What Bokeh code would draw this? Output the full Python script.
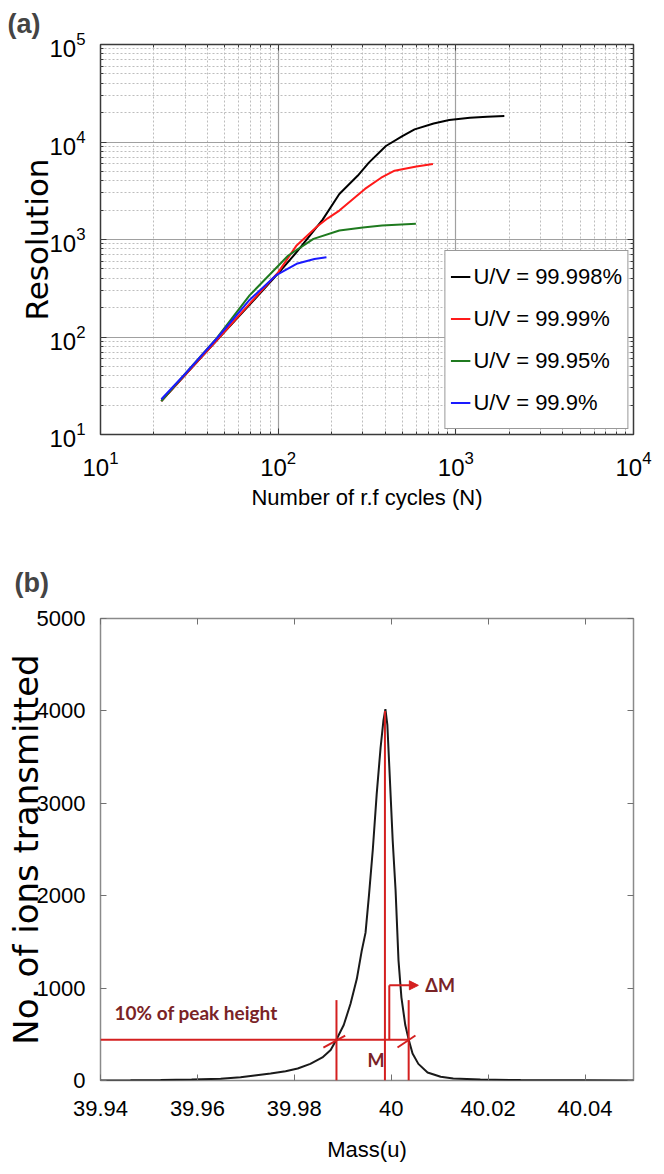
from bokeh.plotting import figure
from bokeh.layouts import column
from bokeh.models import (Range1d, FixedTicker, LogAxis, LinearAxis, CustomJSTickFormatter,
                          LogTickFormatter, Label, Arrow, NormalHead)
from bokeh.embed import file_html
from bokeh.resources import INLINE

# ---------------- panel (a) data ----------------
n_99998 = [22, 30, 45, 70, 100, 127, 178, 221, 280, 324, 404, 500, 586, 750, 918, 1200, 1500, 1875]
r_99998 = [22, 41, 92, 220, 450, 741, 1600, 2930, 4500, 6140, 9100, 11500, 13480, 15500, 16800, 17700, 18200, 18460]
n_9999 = [22, 30, 45, 70, 100, 127, 165, 190, 221, 308, 380, 452, 600, 743]
r_9999 = [22, 41, 92, 225, 460, 870, 1350, 1650, 1980, 3300, 4300, 5080, 5600, 5960]
n_9995 = [22, 30, 45, 69, 90, 114, 158, 221, 300, 384, 596]
r_9995 = [22, 42, 97, 267, 440, 685, 1016, 1236, 1330, 1390, 1447]
n_999 = [22, 30, 45, 69, 97, 127, 160, 187]
r_999 = [23, 42, 96, 240, 428, 563, 630, 659]
series_labels = ["U/V = 99.998%", "U/V = 99.99%", "U/V = 99.95%", "U/V = 99.9%"]
log_major = [10, 100, 1000, 10000, 100000]
log_minor = [m * d for d in [10, 100, 1000, 10000] for m in range(2, 10)]

# ---------------- panel (b) data ----------------
mass = [39.9400, 39.9462, 39.9524, 39.9588, 39.9648, 39.9689, 39.9718, 39.9751, 39.9782,
        39.9807, 39.9833, 39.9858, 39.9875, 39.9887, 39.9902, 39.9916, 39.9929, 39.9939,
        39.9947, 39.9954, 39.9962, 39.9970, 39.9978, 39.9984, 39.9988, 39.9992, 39.9996,
        40.0003, 40.0009, 40.0015, 40.0021, 40.0029, 40.0036, 40.0044, 40.0056, 40.0075,
        40.0102, 40.0128, 40.0184, 40.0267, 40.0391, 40.0500]
ions = [0, 2, 5, 10, 20, 35, 54, 75, 100, 130, 180, 250, 330, 444, 600, 830, 1100, 1400,
        1600, 2000, 2500, 3100, 3600, 3900, 4020, 3850, 3400, 2600, 2056, 1300, 900, 600,
        444, 292, 180, 87, 40, 22, 10, 5, 2, 0]
mass_ticks = [39.94, 39.96, 39.98, 40.0, 40.02, 40.04]
ion_ticks = [0, 1000, 2000, 3000, 4000, 5000]
ten_pct_level = 440
left_cut = 39.9887
right_cut = 40.0036
peak_mass = 39.9987
cut_top = 870
dm_x = 39.9996
dm_level = 1030
dm_arrow_end = 40.0056

SANS = "Liberation Sans"
RED = "#d42020"
DARKRED = "#7a2326"

# ================= panel (a) =================
pa = figure(width=660, height=525, x_axis_type="log", y_axis_type="log",
            x_range=Range1d(10, 1e4), y_range=Range1d(10, 1e5),
            output_backend="svg", toolbar_location=None,
            min_border_left=100, min_border_right=27, min_border_top=42, min_border_bottom=91)
pa.background_fill_color = "white"
pa.outline_line_color = "#3a3a3a"
pa.outline_line_width = 1.5

pa.title.text = "(a)"
pa.title.text_font = SANS
pa.title.text_font_size = "27px"
pa.title.text_font_style = "bold"
pa.title.align = "left"
pa.title.offset = -93
pa.title.standoff = 12

xt = FixedTicker(ticks=log_major[:4], minor_ticks=log_minor)
yt = FixedTicker(ticks=log_major, minor_ticks=log_minor + [m * 100000 for m in range(2, 10)])

pa.xaxis[0].ticker = xt
pa.yaxis[0].ticker = yt
for ax in (pa.xaxis[0], pa.yaxis[0]):
    ax.formatter = LogTickFormatter()
    ax.major_label_text_font = SANS
    ax.major_label_text_font_size = "24px"
    ax.major_label_text_color = "black"
    ax.axis_line_color = None
    ax.major_tick_in = 6
    ax.major_tick_out = 0
    ax.minor_tick_in = 3
    ax.minor_tick_out = 0
    ax.major_tick_line_color = "#3a3a3a"
    ax.minor_tick_line_color = "#3a3a3a"
pa.xaxis.major_label_standoff = 16
pa.yaxis.major_label_standoff = 15
pa.xaxis.axis_label = "Number of r.f cycles (N)"
pa.xaxis.axis_label_text_font = SANS
pa.xaxis.axis_label_text_font_size = "22px"
pa.xaxis.axis_label_text_font_style = "normal"
pa.xaxis.axis_label_text_color = "black"
pa.xaxis.axis_label_standoff = 6
pa.yaxis.axis_label = "Resolution"
pa.yaxis.axis_label_text_font = "DejaVu Sans"
pa.yaxis.axis_label_text_font_size = "31px"
pa.yaxis.axis_label_text_font_style = "normal"
pa.yaxis.axis_label_text_color = "black"
pa.yaxis.axis_label_standoff = -9

for loc, tk in (("above", xt), ("right", yt)):
    extra = LogAxis(ticker=tk, major_label_text_font_size="2px", major_label_text_color=None,
                    major_label_standoff=0,
                    axis_line_color=None, major_tick_in=6, major_tick_out=0,
                    minor_tick_in=3, minor_tick_out=0,
                    major_tick_line_color="#3a3a3a", minor_tick_line_color="#3a3a3a")
    pa.add_layout(extra, loc)

for g in (pa.xgrid[0], pa.ygrid[0]):
    g.grid_line_color = "#a0a0a0"
    g.grid_line_width = 1.2
    g.minor_grid_line_color = "#bdbdbd"
    g.minor_grid_line_dash = "2 2"
    g.minor_grid_line_width = 1

colors = ["#000000", "#ff1a1a", "#1f7a1f", "#1a1aff"]
for (nx, ry), col, lab in zip([(n_99998, r_99998), (n_9999, r_9999), (n_9995, r_9995), (n_999, r_999)],
                              colors, series_labels):
    pa.line(nx, ry, line_color=col, line_width=2, legend_label=lab)

lg = pa.legend[0]
lg.location = "bottom_right"
lg.margin = 5
lg.padding = 5
lg.spacing = 1
lg.label_height = 41
lg.glyph_height = 41
lg.glyph_width = 20
lg.label_standoff = 3
lg.label_text_font = SANS
lg.label_text_font_size = "22px"
lg.label_text_color = "black"
lg.border_line_color = "#333333"
lg.border_line_width = 1.5
lg.background_fill_alpha = 1

# ================= panel (b) =================
pb = figure(width=660, height=645, x_range=Range1d(39.94, 40.05), y_range=Range1d(0, 5000),
            output_backend="svg", toolbar_location=None,
            min_border_left=100, min_border_right=27, min_border_top=93, min_border_bottom=90)
pb.outline_line_color = "#8a8a8a"
pb.outline_line_width = 1.5
pb.grid.visible = False
pb.title.text = "(b)"
pb.title.text_font = SANS
pb.title.text_font_size = "27px"
pb.title.text_font_style = "bold"
pb.title.align = "left"
pb.title.offset = -86
pb.title.standoff = 42

mt = FixedTicker(ticks=mass_ticks)
it = FixedTicker(ticks=ion_ticks)
mass_fmt = CustomJSTickFormatter(code="return String(Math.round(tick*100)/100);")
pb.xaxis[0].ticker = mt
pb.xaxis[0].formatter = mass_fmt
pb.yaxis[0].ticker = it
for ax in (pb.xaxis[0], pb.yaxis[0]):
    ax.major_label_text_font = SANS
    ax.major_label_text_font_size = "22px"
    ax.major_label_text_color = "black"
    ax.axis_line_color = None
    ax.major_tick_in = 6
    ax.major_tick_out = 0
    ax.minor_tick_line_color = None
    ax.major_tick_line_color = "#707070"
pb.xaxis.major_label_standoff = 20
pb.yaxis.major_label_standoff = 15
pb.xaxis.axis_label = "Mass(u)"
pb.xaxis.axis_label_text_font = SANS
pb.xaxis.axis_label_text_font_size = "22px"
pb.xaxis.axis_label_text_font_style = "normal"
pb.xaxis.axis_label_text_color = "black"
pb.xaxis.axis_label_standoff = 18
pb.yaxis.axis_label = "No. of ions transmitted"
pb.yaxis.axis_label_text_font = "DejaVu Sans"
pb.yaxis.axis_label_text_font_size = "34px"
pb.yaxis.axis_label_text_font_style = "normal"
pb.yaxis.axis_label_text_color = "black"
pb.yaxis.axis_label_standoff = -12
pb.add_layout(LinearAxis(ticker=mt, major_label_text_font_size="2px", major_label_text_color=None,
                         major_label_standoff=0,
                         axis_line_color=None, major_tick_in=6, major_tick_out=0,
                         minor_tick_line_color=None, major_tick_line_color="#707070"), "above")
pb.add_layout(LinearAxis(ticker=it, major_label_text_font_size="2px", major_label_text_color=None,
                         major_label_standoff=0,
                         axis_line_color=None, major_tick_in=6, major_tick_out=0,
                         minor_tick_line_color=None, major_tick_line_color="#707070"), "right")

pb.line(mass, ions, line_color="#1a1a1a", line_width=2)

# annotation lines
pb.line([39.94, right_cut], [ten_pct_level, ten_pct_level], line_color=RED, line_width=2)
pb.segment(x0=[left_cut, right_cut, peak_mass, dm_x],
           y0=[0, 0, 0, ten_pct_level],
           x1=[left_cut, right_cut, peak_mass, dm_x],
           y1=[cut_top, cut_top, 4000, dm_level],
           line_color=RED, line_width=2)
pb.segment(x0=[left_cut - 0.0027, right_cut - 0.0023], y0=[357, 357],
           x1=[left_cut + 0.0018, right_cut + 0.0014], y1=[487, 487],
           line_color=RED, line_width=2)
pb.add_layout(Arrow(end=NormalHead(size=9, fill_color=RED, line_color=RED),
                    x_start=dm_x, y_start=dm_level, x_end=dm_arrow_end, y_end=dm_level,
                    line_color=RED, line_width=2))

pb.add_layout(Label(x=dm_arrow_end, y=dm_level, x_offset=7, text="\u0394M", text_font="Lato",
                    text_font_size="18px", text_font_style="bold", text_color=DARKRED,
                    text_align="left", text_baseline="middle"))
pb.add_layout(Label(x=peak_mass, y=ten_pct_level, x_offset=-9, y_offset=-20, text="M",
                    text_font="Lato", text_font_size="18px", text_font_style="bold",
                    text_color=DARKRED, text_align="center", text_baseline="middle"))
pb.add_layout(Label(x=39.94, y=ten_pct_level, x_offset=14, y_offset=27,
                    text="10% of peak height", text_font="Lato", text_font_size="19px",
                    text_font_style="bold", text_color=DARKRED, text_align="left",
                    text_baseline="middle"))

layout = column(pa, pb, spacing=0)
open("out.html", "w").write(file_html(layout, INLINE))
